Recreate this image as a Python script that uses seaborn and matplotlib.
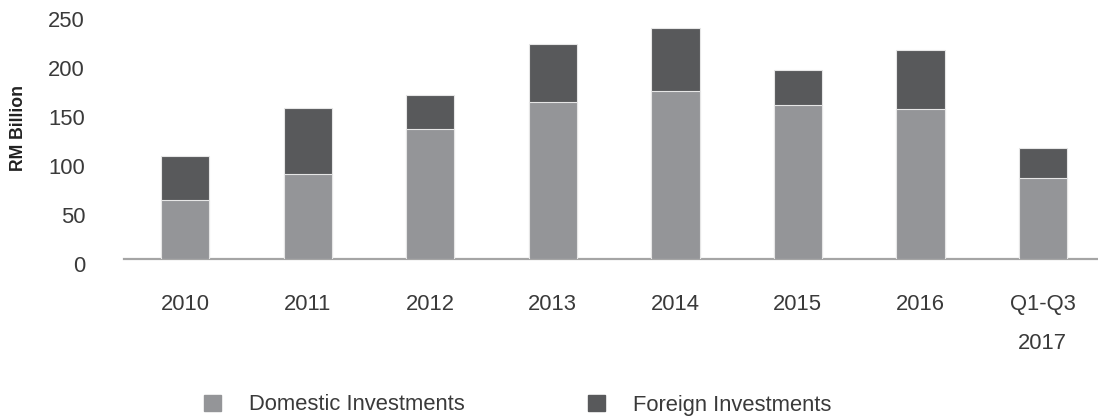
import seaborn as sns
import matplotlib.pyplot as plt
import matplotlib.patches as mpatches
from matplotlib.transforms import ScaledTranslation
import pandas as pd

# values (RM billion)
periods = ["2010", "2011", "2012", "2013", "2014", "2015", "2016", "Q1-Q3\n2017"]
domestic = [60.9, 86.7, 132.8, 160.2, 171.7, 156.8, 153.5, 83.0]
foreign = [44.5, 67.8, 34.5, 59.6, 64.1, 36.3, 59.6, 30.1]

dom_color = "#949598"
for_color = "#58595b"
text_color = "#3a3a3a"

sns.set_style("white")
plt.rcParams['font.family'] = ['Liberation Sans', 'DejaVu Sans']

df = pd.DataFrame({"period": periods, "domestic": domestic, "foreign": foreign})
df["total"] = df["domestic"] + df["foreign"]

fig = plt.figure(figsize=(10.98, 4.18), dpi=100)
ax = fig.add_axes([124 / 1098, 1 - 259.3 / 418, 974 / 1098, 245.3 / 418])

# stacked bars: total (foreign on top) first, then domestic over it
sns.barplot(x="period", y="total", data=df, color=for_color, saturation=1, width=0.395,
            edgecolor="#e6e6e6", linewidth=0.8, ax=ax)
sns.barplot(x="period", y="domestic", data=df, color=dom_color, saturation=1, width=0.395,
            edgecolor="#e6e6e6", linewidth=0.8, ax=ax)

ax.set_xlim(-0.5, 7.45)
ax.set_ylim(0, 250)
ax.set_yticks(range(0, 251, 50))
ax.set_xlabel("")
ax.set_ylabel("")

sns.despine(ax=ax, left=True, top=True, right=True)
ax.spines["bottom"].set_color("#a5a5a5")
ax.spines["bottom"].set_linewidth(1.6)
ax.spines["bottom"].set_zorder(0)

ax.tick_params(axis="both", length=0, labelsize=15.8, colors=text_color)
ax.tick_params(axis="y", pad=28)
ax.tick_params(axis="x", pad=25)
for lab in ax.get_xticklabels():
    lab.set_linespacing(2.15)
for lab in ax.get_yticklabels():
    lab.set_transform(lab.get_transform() + ScaledTranslation(0, -5 / 100, fig.dpi_scale_trans))

fig.text(18.7 / 1098, 1 - 128 / 418, "RM Billion", rotation=90, ha="center", va="center",
         fontsize=12.7, fontweight="bold", color="#222222")

handles = [mpatches.Patch(color=dom_color, label="Domestic Investments"),
           mpatches.Patch(color=for_color, label="Foreign Investments")]
fig.legend(handles=handles, loc="center left", bbox_to_anchor=(204 / 1098, 1 - 405 / 418),
           ncol=2, frameon=False, fontsize=15.8, handlelength=0.77, handleheight=0.77,
           handletextpad=1.29, columnspacing=5.6, borderpad=0, borderaxespad=0,
           labelcolor=text_color)

fig.savefig("out.png", dpi=100)
